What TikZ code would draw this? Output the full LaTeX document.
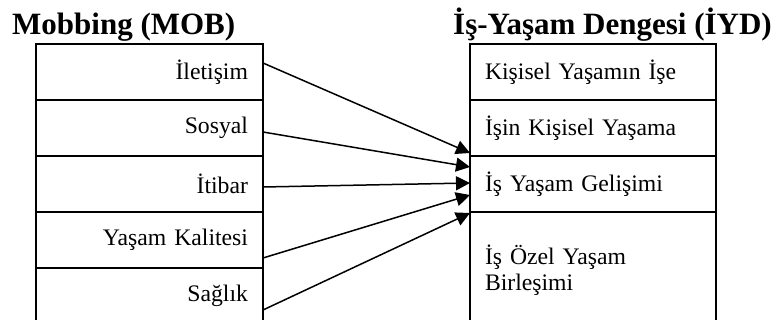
\documentclass[tikz,border=0pt]{standalone}
\usepackage{fontspec}
\setmainfont{Liberation Serif}
\usetikzlibrary{arrows.meta}
\tikzset{
 satir/.style={draw, line width=2pt, outer sep=0pt, inner xsep=15pt, inner ysep=0pt,
  minimum height=56pt, font=\fontsize{23.7}{26}\selectfont},
 solsatir/.style={satir, text width=197pt, align=right},
 sagsatir/.style={satir, text width=216pt, align=left},
 baslik/.style={anchor=base west, inner sep=0pt, font=\fontsize{31}{34}\selectfont\bfseries},
 ok/.style={-{Triangle[length=14pt,width=14pt]}, line width=1.5pt},
}
\begin{document}
\begin{tikzpicture}[x=1pt,y=-1pt]
 \clip (0,0) rectangle (777,320);
 \node[baslik] (mob) at (12,35) {Mobbing (MOB)};
 \node[baslik] (iyd) at (453,35) {İş-Yaşam Dengesi (İYD)};
 % Mobbing boyutlari
 \foreach \ad [count=\i] in {İletişim, Sosyal, İtibar, Yaşam Kalitesi, Sağlık}
  \node[solsatir] (m\i) at (149.5,16+56*\i) {\ad};
 % is-yasam dengesi boyutlari
 \foreach \ad [count=\i] in {Kişisel Yaşamın İşe, İşin Kişisel Yaşama, İş Yaşam Gelişimi}
  \node[sagsatir] (d\i) at (593,16+56*\i) {\ad};
 \node[sagsatir, minimum height=116pt] (d4) at (593,270) {İş Özel Yaşam\\Birleşimi};
 \foreach \i/\a/\b in {1/9/31, 2/-4/17, 3/-3/1, 4/-18/-11, 5/-14/-29}
  \draw[ok] ([yshift=\a pt]m\i.east) -- ([yshift=\b pt]d3.west);
\end{tikzpicture}
\end{document}
